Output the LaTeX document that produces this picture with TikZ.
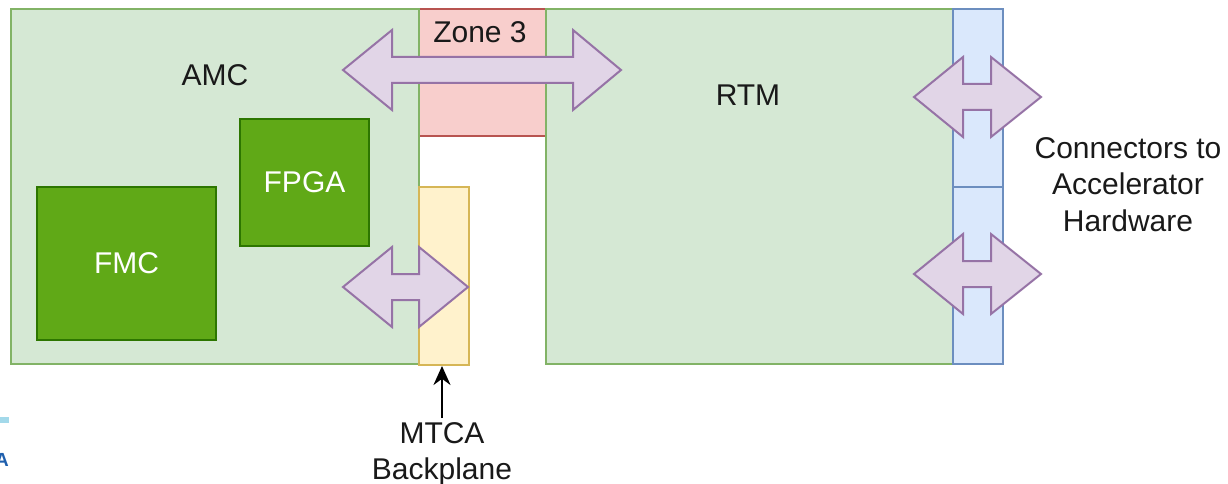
\documentclass[tikz,border=0pt]{standalone}
\usepackage{fontspec}
\setmainfont{Liberation Sans}
\usetikzlibrary{arrows.meta}

\definecolor{amcfill}{HTML}{D5E8D4}
\definecolor{amcline}{HTML}{82B366}
\definecolor{zonefill}{HTML}{F8CECC}
\definecolor{zoneline}{HTML}{B85450}
\definecolor{mtcafill}{HTML}{FFF2CC}
\definecolor{mtcaline}{HTML}{D6B656}
\definecolor{connfill}{HTML}{DAE8FC}
\definecolor{connline}{HTML}{6C8EBF}
\definecolor{chipfill}{HTML}{60A917}
\definecolor{chipline}{HTML}{2D7600}
\definecolor{arrfill}{HTML}{E1D5E7}
\definecolor{arrline}{HTML}{9673A6}
\definecolor{fragblue}{HTML}{A3D9EA}
\definecolor{fragtext}{HTML}{1F5FAD}

\tikzset{
  blk/.style={draw, line width=2pt, inner sep=0pt, anchor=north west},
  board/.style={blk, fill=amcfill, draw=amcline},
  chip/.style={blk, fill=chipfill, draw=chipline, text=white},
  txt/.style={inner sep=0pt, text=black!90, align=center},
  biarrow/.style={draw=arrline, fill=arrfill, line width=2pt, line join=miter},
  ptr/.style={-{Stealth[length=19pt,width=17pt]}, line width=2.2pt, black}
}

% double block arrow: left tip, left head base, right head base, right tip, centre y
\newcommand{\biarrow}[5]{%
  \draw[biarrow] (#1,#5) -- (#2,#5-40) -- (#2,#5-13) -- (#3,#5-13) -- (#3,#5-40)
    -- (#4,#5) -- (#3,#5+40) -- (#3,#5+13) -- (#2,#5+13) -- (#2,#5+40) -- cycle;}

\begin{document}
\begin{tikzpicture}[x=1pt, y=-1pt, font=\fontsize{30}{36.5}\selectfont]
  \useasboundingbox (0,0) rectangle (1228,484);

  % boards and connectors
  \node[blk, fill=zonefill, draw=zoneline, minimum width=127pt, minimum height=127pt] (zone) at (418,8) {};
  \node[board, minimum width=408pt, minimum height=355pt] (amc) at (10,8) {};
  \node[board, minimum width=407pt, minimum height=355pt] (rtm) at (545,8) {};
  \node[blk, fill=mtcafill, draw=mtcaline, minimum width=50pt, minimum height=178pt] (backplane) at (418,186) {};
  \node[blk, fill=connfill, draw=connline, minimum width=50pt, minimum height=178pt] (conna) at (952,8) {};
  \node[blk, fill=connfill, draw=connline, minimum width=50pt, minimum height=177pt] (connb) at (952,186) {};

  \node[chip, minimum width=129pt, minimum height=127pt] (fpga) at (239,118) {};
  \node[text=white] at (fpga.center) {FPGA};
  \node[chip, minimum width=179pt, minimum height=153pt] (fmc) at (36,186) {};
  \node[text=white] at (fmc.center) {FMC};

  % labels
  \node[txt] (amclabel) at (215,75) {AMC};
  \node[txt] (rtmlabel) at (748,95) {RTM};
  \node[txt] (zonelabel) at (480,32) {Zone 3};
  \node[txt, anchor=north] (hwlabel) at (1128,137) {Connectors to\\Accelerator\\Hardware};
  \node[txt, anchor=north] (mtcalabel) at (442,422) {MTCA\\Backplane};

  % block arrows
  \biarrow{343}{392}{573}{621}{70}
  \biarrow{343}{392}{419}{468}{287}
  \biarrow{914}{963}{991}{1041}{97}
  \biarrow{914}{963}{991}{1041}{274}

  \draw[ptr, shorten <=4pt] (mtcalabel.north) -- (mtcalabel.north |- backplane.south);

  % cropped remains at the left edge
  \begin{scope}
    \clip (0,400) rectangle (9,484);
    \fill[fragblue] (0,417) rectangle (9,423);
    \node[anchor=south east, inner sep=0pt, text=fragtext, font=\fontsize{19}{20}\selectfont\bfseries] at (9,467) {A};
  \end{scope}
\end{tikzpicture}
\end{document}
